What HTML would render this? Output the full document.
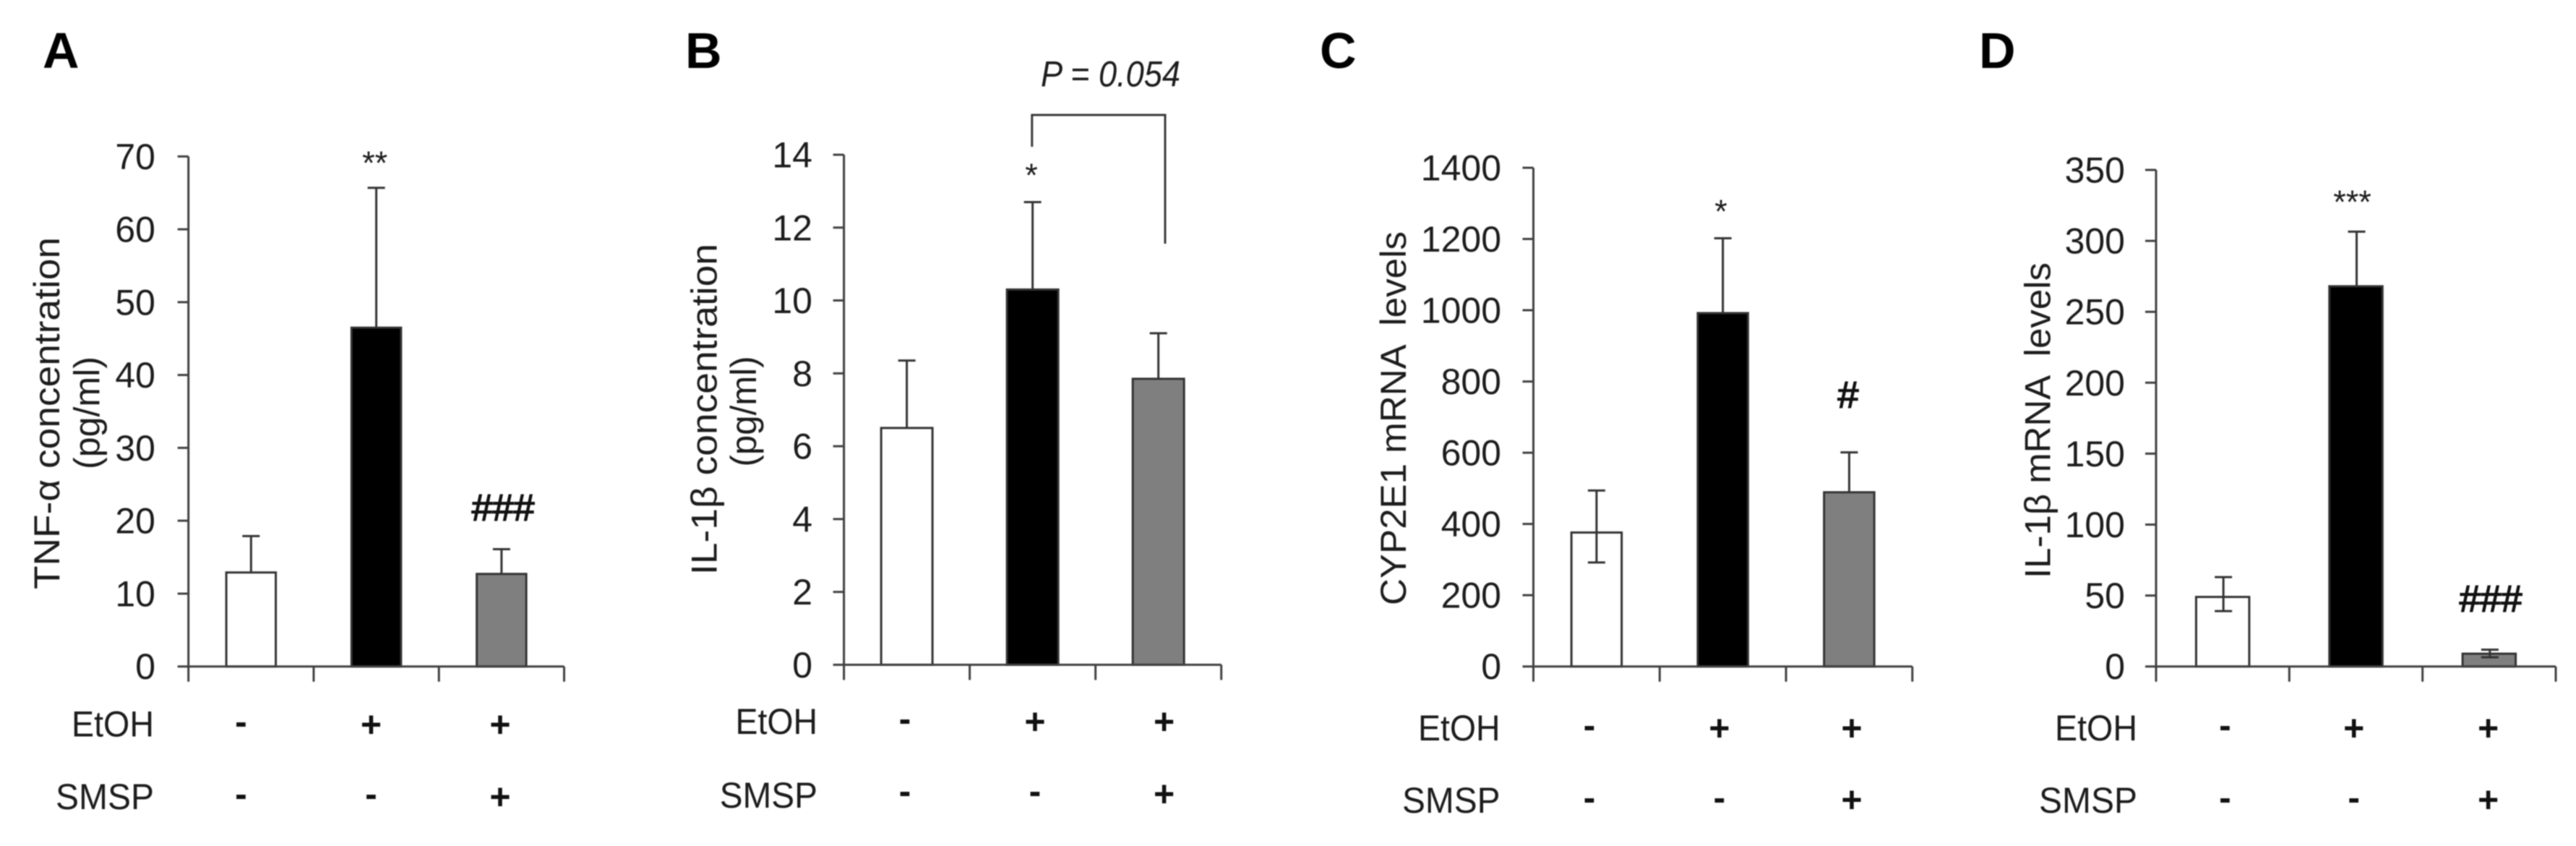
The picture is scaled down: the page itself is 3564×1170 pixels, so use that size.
<!DOCTYPE html>
<html lang="en">
<head>
<meta charset="utf-8">
<title>Ethanol and SMSP effects on TNF-α, IL-1β and CYP2E1</title>
<style>
html,body{margin:0;padding:0;background:#fff;width:3564px;height:1170px;overflow:hidden}
svg{display:block;filter:blur(0.9px)}
text{font-family:"Liberation Sans",sans-serif;fill:#1c1c1c}
.letter{font-size:70px;font-weight:bold;fill:#000}
.t{font-size:50px}
.m{font-size:50px;font-weight:bold;text-anchor:middle;fill:#111}
.s{font-size:45px;text-anchor:middle}
.h{font-size:52px;text-anchor:middle;stroke:#111;stroke-width:1.6px;fill:#111}
</style>
</head>
<body>
<svg id="fig" xmlns="http://www.w3.org/2000/svg" width="3564" height="1170" viewBox="0 0 3564 1170">
  <rect width="3564" height="1170" fill="#fff"/>

  <g>
    <text class="letter" x="59" y="94">A</text>
    <text class="t" transform="translate(82,815) rotate(-90)" textLength="487" lengthAdjust="spacingAndGlyphs">TNF-α concentration</text>
    <text class="t" transform="translate(137.5,649) rotate(-90)" textLength="156" lengthAdjust="spacingAndGlyphs">(pg/ml)</text>
    <text class="t" x="99" y="1018.7" textLength="114" lengthAdjust="spacingAndGlyphs">EtOH</text>
    <text class="t" x="77" y="1119" textLength="136" lengthAdjust="spacingAndGlyphs">SMSP</text>
    <text class="m" x="333.5" y="1015">-</text>
    <text class="m" x="513.5" y="1019">+</text>
    <text class="m" x="692" y="1019">+</text>
    <text class="m" x="333.5" y="1115">-</text>
    <text class="m" x="513.5" y="1115">-</text>
    <text class="m" x="692" y="1119">+</text>
    <text class="s" x="518.6" y="241">**</text>
    <text class="h" x="696" y="720">###</text>
  </g>

  <g>
    <text class="letter" x="948" y="94">B</text>
    <text class="t" transform="translate(991.7,795) rotate(-90)" textLength="458" lengthAdjust="spacingAndGlyphs">IL-1β concentration</text>
    <text class="t" transform="translate(1046,645.5) rotate(-90)" textLength="153" lengthAdjust="spacingAndGlyphs">(pg/ml)</text>
    <text class="t" x="1017.5" y="1015" textLength="113.5" lengthAdjust="spacingAndGlyphs">EtOH</text>
    <text class="t" x="995.7" y="1117" textLength="135.3" lengthAdjust="spacingAndGlyphs">SMSP</text>
    <text class="m" x="1252" y="1011">-</text>
    <text class="m" x="1432" y="1015">+</text>
    <text class="m" x="1610.6" y="1015">+</text>
    <text class="m" x="1252" y="1111">-</text>
    <text class="m" x="1432" y="1111">-</text>
    <text class="m" x="1610.6" y="1115">+</text>
    <text class="s" x="1427" y="258">*</text>
    <path d="M1427.8 203V159H1612V337" fill="none" stroke="#3a3a3a" stroke-width="3"/>
    <text class="t" x="1440" y="119.5" font-style="italic" textLength="193" lengthAdjust="spacingAndGlyphs">P = 0.054</text>
  </g>

  <g>
    <text class="letter" x="1826" y="94">C</text>
    <text class="t" transform="translate(1945,837) rotate(-90)" textLength="517" lengthAdjust="spacingAndGlyphs" xml:space="preserve">CYP2E1 mRNA  levels</text>
    <text class="t" x="1962" y="1024" textLength="113.6" lengthAdjust="spacingAndGlyphs">EtOH</text>
    <text class="t" x="1940" y="1124" textLength="135.6" lengthAdjust="spacingAndGlyphs">SMSP</text>
    <text class="m" x="2198.9" y="1020">-</text>
    <text class="m" x="2378.8" y="1024">+</text>
    <text class="m" x="2562" y="1024">+</text>
    <text class="m" x="2198.9" y="1120">-</text>
    <text class="m" x="2378.8" y="1120">-</text>
    <text class="m" x="2562" y="1123">+</text>
    <text class="s" x="2381" y="308">*</text>
    <text class="h" x="2557" y="564">#</text>
  </g>

  <g>
    <text class="letter" x="2738" y="94">D</text>
    <text class="t" transform="translate(2836.4,800) rotate(-90)" textLength="437" lengthAdjust="spacingAndGlyphs" xml:space="preserve">IL-1β mRNA  levels</text>
    <text class="t" x="2843" y="1024" textLength="114" lengthAdjust="spacingAndGlyphs">EtOH</text>
    <text class="t" x="2821" y="1124" textLength="136" lengthAdjust="spacingAndGlyphs">SMSP</text>
    <text class="m" x="3078.4" y="1020">-</text>
    <text class="m" x="3256.7" y="1024">+</text>
    <text class="m" x="3442.6" y="1024">+</text>
    <text class="m" x="3078.4" y="1120">-</text>
    <text class="m" x="3256.7" y="1120">-</text>
    <text class="m" x="3442.6" y="1123">+</text>
    <text class="s" x="3254.5" y="295">***</text>
    <text class="h" x="3446" y="846">###</text>
  </g>

  <g id="charts"></g>
</svg>

<script>
// Groups shown on the x axis
var categories = ['control', 'ethanol', 'ethanol-smsp'];

// Panel A: TNF-α concentration (pg/ml)
var aMeans = [12.9, 46.5, 12.7];
var aErrTop = [17.9, 65.7, 16.1];
var aErrBottom = [null, null, null];
var aTicks = [0, 10, 20, 30, 40, 50, 60, 70];

// Panel B: IL-1β concentration (pg/ml)
var bMeans = [6.5, 10.3, 7.85];
var bErrTop = [8.35, 12.7, 9.1];
var bErrBottom = [null, null, null];
var bTicks = [0, 2, 4, 6, 8, 10, 12, 14];

// Panel C: CYP2E1 mRNA levels
var cMeans = [376, 992, 489];
var cErrTop = [494, 1202, 601];
var cErrBottom = [292, null, null];
var cTicks = [0, 200, 400, 600, 800, 1000, 1200, 1400];

// Panel D: IL-1β mRNA levels
var dMeans = [49, 268, 9];
var dErrTop = [63, 306.5, 11.8];
var dErrBottom = [39, null, 6.5];
var dTicks = [0, 50, 100, 150, 200, 250, 300, 350];

// Colours per category
var barFills = ['#ffffff', '#000000', '#7f7f7f'];

var NS = 'http://www.w3.org/2000/svg';
var root = document.getElementById('charts');

function mk(parent, tag, attrs) {
  var el = document.createElementNS(NS, tag);
  for (var k in attrs) el.setAttribute(k, attrs[k]);
  parent.appendChild(el);
  return el;
}

function drawPanel(id, frame, means, errTop, errBottom, ticks) {
  var maxV = ticks[ticks.length - 1];
  var band = (frame.right - frame.left) / categories.length;
  function yScale(v) { return frame.base - (v / maxV) * (frame.base - frame.top); }
  function xScale(i) { return frame.left + (i + 0.5) * band; }

  var g = mk(root, 'g', {});
  
  

  categories.forEach(function (cat, i) {
    var y = yScale(means[i]);
    var cx = xScale(i);
    var bar = mk(g, 'rect', {
      x: cx - frame.barWidth / 2, y: y,
      width: frame.barWidth, height: frame.base - y,
      fill: barFills[i], stroke: '#333', 'stroke-width': 3
    });
    
    
  });

  categories.forEach(function (cat, i) {
    var cx = xScale(i) + frame.errShift;
    var yTop = yScale(errTop[i]);
    var yBot = errBottom[i] === null ? yScale(means[i]) : yScale(errBottom[i]);
    var d = 'M' + cx + ' ' + yBot + 'V' + yTop + 'M' + (cx - 12) + ' ' + yTop + 'H' + (cx + 12);
    if (errBottom[i] !== null) d += 'M' + (cx - 12) + ' ' + yBot + 'H' + (cx + 12);
    var err = mk(g, 'path', { d: d, fill: 'none', stroke: '#333', 'stroke-width': 3 });
    
    
  });

  var d = 'M' + frame.left + ' ' + frame.top + 'V' + (frame.base + 21);
  ticks.forEach(function (t) {
    d += 'M' + (frame.left - 15) + ' ' + yScale(t) + 'H' + frame.left;
  });
  d += 'M' + (frame.left - 15) + ' ' + frame.base + 'H' + frame.right;
  for (var i = 1; i <= categories.length; i++) {
    var tx = frame.left + i * band;
    d += 'M' + tx + ' ' + frame.base + 'V' + (frame.base + 21);
  }
  var axes = mk(g, 'path', { d: d, fill: 'none', stroke: '#404040', 'stroke-width': 3 });
  
  

  ticks.forEach(function (t) {
    var lbl = mk(g, 'text', {
      x: frame.labelRight, y: yScale(t) + 17.5,
      'text-anchor': 'end', 'font-size': 50
    });
    lbl.textContent = String(t);
    
    
  });
}

drawPanel('a', { left: 260.7, right: 780.5, top: 216.4, base: 921.7, barWidth: 68.5, errShift: 0, labelRight: 215 }, aMeans, aErrTop, aErrBottom, aTicks);
drawPanel('b', { left: 1167.6, right: 1689.7, top: 214, base: 919.4, barWidth: 71, errShift: 0, labelRight: 1124 }, bMeans, bErrTop, bErrBottom, bTicks);
drawPanel('c', { left: 2121.5, right: 2645.8, top: 232, base: 921.7, barWidth: 69.5, errShift: 0, labelRight: 2077 }, cMeans, cErrTop, cErrBottom, cTicks);
drawPanel('d', { left: 2983, right: 3536, top: 235, base: 921.7, barWidth: 73.5, errShift: 1, labelRight: 2940 }, dMeans, dErrTop, dErrBottom, dTicks);
</script>
</body>
</html>
